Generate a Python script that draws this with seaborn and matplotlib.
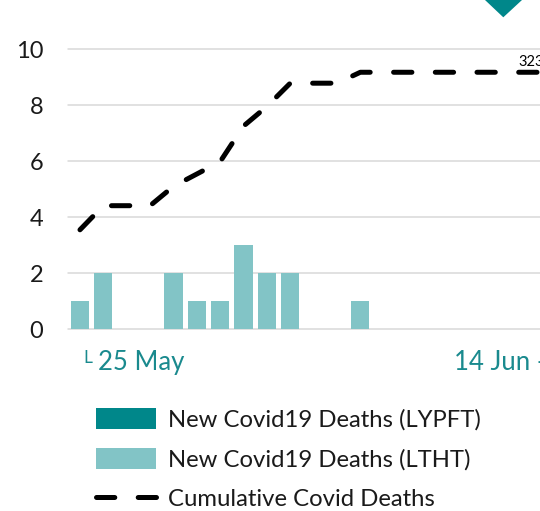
import matplotlib
matplotlib.use("Agg")
import matplotlib.pyplot as plt
import matplotlib.transforms as mtransforms
from matplotlib.patches import Patch, Polygon
from matplotlib.lines import Line2D
import seaborn as sns
import pandas as pd

# ---- data ----
days = list(range(21))
ltht_deaths = [1, 2, 0, 0, 2, 1, 1, 3, 2, 2, 0, 0, 1, 0, 0, 0, 0, 0, 0, 0, 0]
lypft_deaths = [0] * 21
cum_deaths = [3.55, 4.41, 4.41, 4.41, 5.1, 5.54, 5.98, 7.25, 7.95, 8.78,
              8.78, 8.78, 9.17, 9.17, 9.17, 9.17, 9.17, 9.17, 9.17, 9.17, 9.17]
y_ticks = [0, 2, 4, 6, 8, 10]
date_labels = ["25 May", "14 Jun -"]
date_pos = [0.77, 16.01]
end_label = "3233"
legend_labels = ["New Covid19 Deaths (LYPFT)", "New Covid19 Deaths (LTHT)",
                 "Cumulative Covid Deaths"]

LYPFT_C = "#00878A"
LTHT_C = "#82C4C6"
DATE_C = "#1A8A8E"
GRID_C = "#D9D9D9"

sns.set_theme(style="white")
plt.rcParams['font.family'] = ['Lato', 'DejaVu Sans']

W, H = 540, 511
fig = plt.figure(figsize=(W / 100, H / 100), dpi=100)
ax_left, ax_bottom, ax_top = 68.3, 329.3, 49.0
ax = fig.add_axes([ax_left / W, (H - ax_bottom) / H, (W - ax_left) / W,
                   (ax_bottom - ax_top) / H])

df = pd.DataFrame({
    "day": days,
    "total": [a + b for a, b in zip(ltht_deaths, lypft_deaths)],
    "ltht": ltht_deaths,
    "cum": cum_deaths,
})

sns.barplot(data=df, x="day", y="total", color=LYPFT_C, saturation=1,
            width=0.78, errorbar=None, ax=ax, zorder=2, linewidth=0,
            edgecolor="none")
sns.barplot(data=df, x="day", y="ltht", color=LTHT_C, saturation=1,
            width=0.78, errorbar=None, ax=ax, zorder=3, linewidth=0,
            edgecolor="none")

sns.lineplot(data=df, x="day", y="cum", ax=ax, color="black", lw=3.6,
             linestyle=(0, (3.66, 4.68)), dash_capstyle="round", zorder=4)

ax.set_xlim(-0.50, 19.69)
ax.set_ylim(0, 10)
ax.set_yticks(y_ticks)
ax.set_xticks([])
ax.set_xlabel("")
ax.set_ylabel("")
ax.tick_params(axis="y", length=0, pad=18, labelsize=17, labelcolor="#1a1a1a")
ax.yaxis.grid(True, color=GRID_C, lw=1.1)
for gl in ax.get_ygridlines():
    gl.set_clip_on(False)
ax.set_axisbelow(True)
for s in ax.spines.values():
    s.set_visible(False)

# end-of-line data label (cut by the figure edge as in the reference)
ax.text(18.76, 9.39, end_label, fontsize=10.5, color="black", va="baseline",
        ha="left", clip_on=False)

# date labels
tr = mtransforms.blended_transform_factory(ax.transData, fig.transFigure)
ax.text(0.13, (H - 363) / H, "L", transform=tr, fontsize=12.5, color=DATE_C,
        va="baseline", ha="left")
for lab, p in zip(date_labels, date_pos):
    ax.text(p, (H - 370) / H, lab, transform=tr, fontsize=18.5, color=DATE_C,
            va="baseline", ha="left")

# legend
handles = [
    Patch(facecolor=LYPFT_C, edgecolor="none"),
    Patch(facecolor=LTHT_C, edgecolor="none"),
    Line2D([0], [0], color="black", lw=3.6, linestyle=(0, (3.66, 4.68)),
           dash_capstyle="round"),
]
fig.legend(handles, legend_labels, loc="upper left",
           bbox_to_anchor=(96 / W, (H - 408) / H), frameon=False,
           fontsize=17.2, handlelength=2.5, handleheight=0.96,
           handletextpad=0.52, labelspacing=0.72, borderpad=0,
           borderaxespad=0, labelcolor="#1a1a1a")

# teal marker at the top (part of the dashboard)
tri = Polygon([(485 / W, 1.0), (522 / W, 1.0), (503.3 / W, 1 - 17.3 / H)],
              closed=True, transform=fig.transFigure, facecolor=LYPFT_C,
              edgecolor="none")
fig.patches.append(tri)

fig.savefig("out.png", dpi=100)
